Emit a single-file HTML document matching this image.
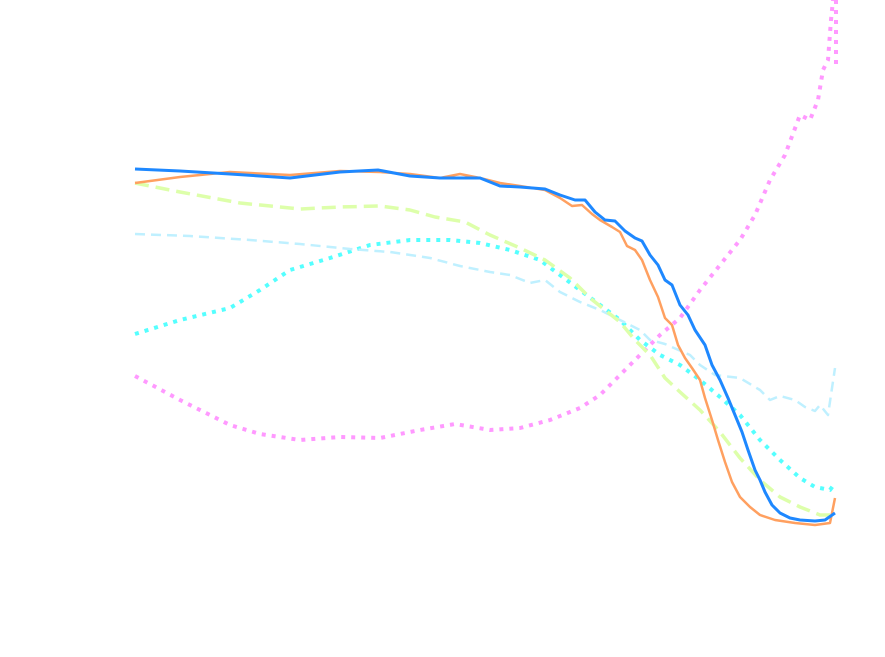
<!DOCTYPE html>
<html><head><meta charset="utf-8"><style>
html,body{margin:0;padding:0;background:#fff;}
svg{display:block;}
</style></head><body>
<svg width="885" height="657" viewBox="0 0 885 657" xmlns="http://www.w3.org/2000/svg" fill="none" stroke-linejoin="round">
<polyline stroke="#ff99ff" stroke-width="4" stroke-dasharray="4,6" points="135,376 180,400 230,425 260,434 300,440 340,437 380,438 420,430 455,424 490,430 520,428 550,420 580,408 600,395 620,375 640,355 660,335 680,318 700,290 720,265 740,240 755,215 770,180 785,155 800,115 810,120 818,100 823,70 828,60 831,20 833,0"/>
<polyline stroke="#ff99ff" stroke-width="4" stroke-dasharray="4,6" points="836,0 836,70"/>
<polyline stroke="#55ffff" stroke-width="4" stroke-dasharray="4,6" points="135,334 180,320 230,308 260,290 290,270 330,258 370,245 410,240 450,240 480,243 510,250 540,260 560,275 580,290 600,305 620,320 640,340 660,355 680,365 700,380 720,397 740,415 760,440 780,460 800,478 815,487 830,490 835,483"/>
<polyline stroke="#bff0ff" stroke-width="2.5" stroke-dasharray="10,6" points="135,234 190,236 250,240 300,244 350,249 390,252 430,258 460,266 490,272 510,275 530,283 545,280 560,292 580,302 600,310 620,320 640,330 650,340 665,344 690,355 700,365 715,375 740,378 760,390 770,400 780,396 795,400 805,407 815,411 820,405 828,415 835,368"/>
<polyline stroke="#ddffaa" stroke-width="3.5" stroke-dasharray="14,7" points="135,183 180,192 240,203 300,209 340,207 380,206 410,210 435,217 465,222 490,235 520,248 545,260 570,278 590,298 605,310 620,322 635,340 650,355 665,378 680,392 700,410 720,432 740,458 760,480 780,497 800,507 820,515 835,515"/>
<polyline stroke="#ffa060" stroke-width="2.5" points="135,183 180,177 230,172 290,175 340,171 380,172 410,174 440,178 460,174 480,178 500,183 520,186 545,190 560,198 572,206 582,205 592,214 600,220 612,227 620,232 627,246 635,250 642,260 650,280 658,297 665,318 672,325 678,345 685,358 692,368 700,380 705,398 712,420 718,440 725,462 732,482 740,497 750,507 760,515 775,520 795,523 815,525 830,523 835,498"/>
<polyline stroke="#1e88ff" stroke-width="3" points="135,169 180,171 230,174 290,178 340,172 378,170 410,176 440,178 480,178 500,186 520,187 545,189 560,195 575,200 585,200 595,212 605,220 615,221 625,231 635,238 642,241 650,255 658,265 665,280 672,285 680,305 688,315 695,330 705,345 712,365 720,380 728,398 735,415 742,432 748,450 755,470 760,480 765,492 772,505 780,513 790,518 800,520 815,521 825,520 835,513"/>
</svg>
</body></html>
